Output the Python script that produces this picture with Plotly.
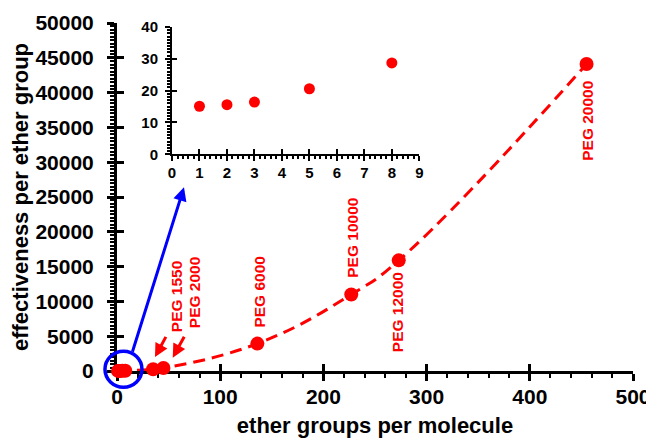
import plotly.graph_objects as go

# ---- data ----
ether_groups = [1, 2, 3, 5, 8, 35, 45, 136, 227, 273, 455]
effectiveness = [15.1, 15.6, 16.4, 20.6, 28.7, 260, 430, 3940, 11000, 15900, 44100]

inset_x = ether_groups[:5]
inset_y = effectiveness[:5]

peg_labels = ["PEG 1550", "PEG 2000", "PEG 6000", "PEG 10000", "PEG 12000", "PEG 20000"]

main_x_ticks = [0, 100, 200, 300, 400, 500]
main_y_ticks = [0, 5000, 10000, 15000, 20000, 25000, 30000, 35000, 40000, 45000, 50000]
inset_x_ticks = [0, 1, 2, 3, 4, 5, 6, 7, 8, 9]
inset_y_ticks = [0, 10, 20, 30, 40]

RED = "#ff0000"
BLUE = "#0000ff"
FONT = "Liberation Sans, Arial, sans-serif"

fig = go.Figure()

# dashed trend line through the points
fig.add_trace(go.Scatter(
    x=ether_groups, y=effectiveness, mode="lines",
    line=dict(color=RED, width=3, dash="12px,7px", shape="spline", smoothing=1.3),
    hoverinfo="skip", showlegend=False, cliponaxis=False,
))
# main markers
fig.add_trace(go.Scatter(
    x=ether_groups, y=effectiveness, mode="markers",
    marker=dict(color=RED, size=14), showlegend=False, cliponaxis=False,
))
# inset markers
fig.add_trace(go.Scatter(
    x=inset_x, y=inset_y, mode="markers", xaxis="x2", yaxis="y2",
    marker=dict(color=RED, size=11), showlegend=False, cliponaxis=False,
))
# dummy traces to materialise the overlay (inside-tick) axes
fig.add_trace(go.Scatter(x=[None], y=[None], xaxis="x3", yaxis="y3", showlegend=False, hoverinfo="skip"))
fig.add_trace(go.Scatter(x=[None], y=[None], xaxis="x4", yaxis="y4", showlegend=False, hoverinfo="skip"))

tickfont_main = dict(family=FONT, size=21, color="black", weight="bold")
tickfont_inset = dict(family=FONT, size=15, color="black", weight="bold")

inset_xdom = [0.1066, 0.5859]
inset_ydom = [0.6227, 0.9885]

# the page body has an 8px default margin, so the figure is sized to fit inside it
fig.update_layout(
    width=646, height=430,
    margin=dict(l=109, r=21, t=15, b=67),
    plot_bgcolor="white", paper_bgcolor="white",
    font=dict(family=FONT),
    xaxis=dict(
        range=[0, 500], tickvals=main_x_ticks, ticktext=[str(v) for v in main_x_ticks],
        showgrid=False, zeroline=False, showline=True, linecolor="black", linewidth=3,
        ticks="outside", ticklen=7, tickwidth=3, tickcolor="black",
        minor=dict(ticks="outside", dtick=20, tick0=0, ticklen=4, tickwidth=2, tickcolor="black"),
        tickfont=tickfont_main, layer="below traces", automargin=False, ticklabelstandoff=-2,
        title=dict(text="ether groups per molecule", font=dict(family=FONT, size=22, color="black", weight="bold"), standoff=11),
        anchor="y",
    ),
    yaxis=dict(
        range=[0, 50000], tickvals=main_y_ticks, ticktext=[str(v) for v in main_y_ticks],
        showgrid=False, zeroline=False, showline=True, linecolor="black", linewidth=3,
        ticks="outside", ticklen=7, tickwidth=3, tickcolor="black",
        minor=dict(ticks="outside", dtick=500, tick0=0, ticklen=4, tickwidth=2, tickcolor="black"),
        tickfont=tickfont_main, layer="below traces", ticklabelstandoff=9, automargin=False,
        title=dict(text="effectiveness per ether group", font=dict(family=FONT, size=22, color="black", weight="bold"), standoff=4),
        anchor="x",
    ),
    xaxis3=dict(range=[0, 500], overlaying="x", anchor="y3", tickvals=main_x_ticks, automargin=False,
                showticklabels=False, ticks="inside", ticklen=7, tickwidth=3, tickcolor="black",
                showgrid=False, zeroline=False, showline=False),
    yaxis3=dict(range=[0, 50000], overlaying="y", anchor="x3", tickvals=main_y_ticks, automargin=False,
                showticklabels=False, ticks="inside", ticklen=7, tickwidth=3, tickcolor="black",
                showgrid=False, zeroline=False, showline=False),
    xaxis2=dict(
        domain=inset_xdom, range=[0, 9], tickvals=inset_x_ticks, anchor="y2", automargin=False,
        showgrid=False, zeroline=False, showline=True, linecolor="black", linewidth=2,
        ticks="outside", ticklen=5, tickwidth=2, tickcolor="black",
        minor=dict(ticks="outside", dtick=0.2, tick0=0, ticklen=3, tickwidth=1.5, tickcolor="black"),
        tickfont=tickfont_inset, ticklabelstandoff=-1,
    ),
    yaxis2=dict(
        domain=inset_ydom, range=[0, 40], tickvals=inset_y_ticks, anchor="x2", automargin=False,
        showgrid=False, zeroline=False, showline=True, linecolor="black", linewidth=2,
        ticks="outside", ticklen=5, tickwidth=2, tickcolor="black",
        minor=dict(ticks="outside", dtick=1, tick0=0, ticklen=3, tickwidth=1.5, tickcolor="black"),
        tickfont=tickfont_inset, ticklabelstandoff=4,
    ),
    xaxis4=dict(domain=inset_xdom, range=[0, 9], overlaying="x2", anchor="y4", tickvals=inset_x_ticks,
                showticklabels=False, ticks="inside", ticklen=5, tickwidth=2, tickcolor="black",
                showgrid=False, zeroline=False, showline=False, automargin=False),
    yaxis4=dict(domain=inset_ydom, range=[0, 40], overlaying="y2", anchor="x4", tickvals=inset_y_ticks,
                showticklabels=False, ticks="inside", ticklen=5, tickwidth=2, tickcolor="black",
                showgrid=False, zeroline=False, showline=False, automargin=False),
)

# PEG labels (rotated)
label_pos = [(57.8, 10700), (74.8, 11350), (137.9, 11450), (227.4, 19100), (272.5, 8480), (455.1, 35900)]
lab_font = dict(family=FONT, size=15.5, color=RED, weight="bold")
for txt, (lx, ly) in zip(peg_labels, label_pos):
    fig.add_annotation(x=lx, y=ly, xref="x", yref="y", text=txt, textangle=-90,
                       showarrow=False, font=lab_font, xanchor="center", yanchor="middle")

# red arrows to PEG 1550 / PEG 2000
for hx, hy, ax, ay in [(36.8, 2000, 11.7, -21.7), (54.0, 1920, 12.3, -22.3)]:
    fig.add_annotation(x=hx, y=hy, xref="x", yref="y", text="", showarrow=True,
                       ax=ax, ay=ay, arrowcolor=RED, arrowwidth=3, arrowhead=2, arrowsize=0.9)

# blue arrow from circle to inset
fig.add_annotation(x=64.9, y=26400, xref="x", yref="y", text="", showarrow=True,
                   ax=-52, ay=166, arrowcolor=BLUE, arrowwidth=3, arrowhead=2, arrowsize=0.9)

# blue circle around origin cluster
fig.add_shape(type="circle", xref="paper", yref="paper",
              x0=-0.0233, x1=0.0484, y0=-0.0468, y1=0.0566,
              line=dict(color=BLUE, width=3.5), layer="above")

fig.write_html("out.html")
